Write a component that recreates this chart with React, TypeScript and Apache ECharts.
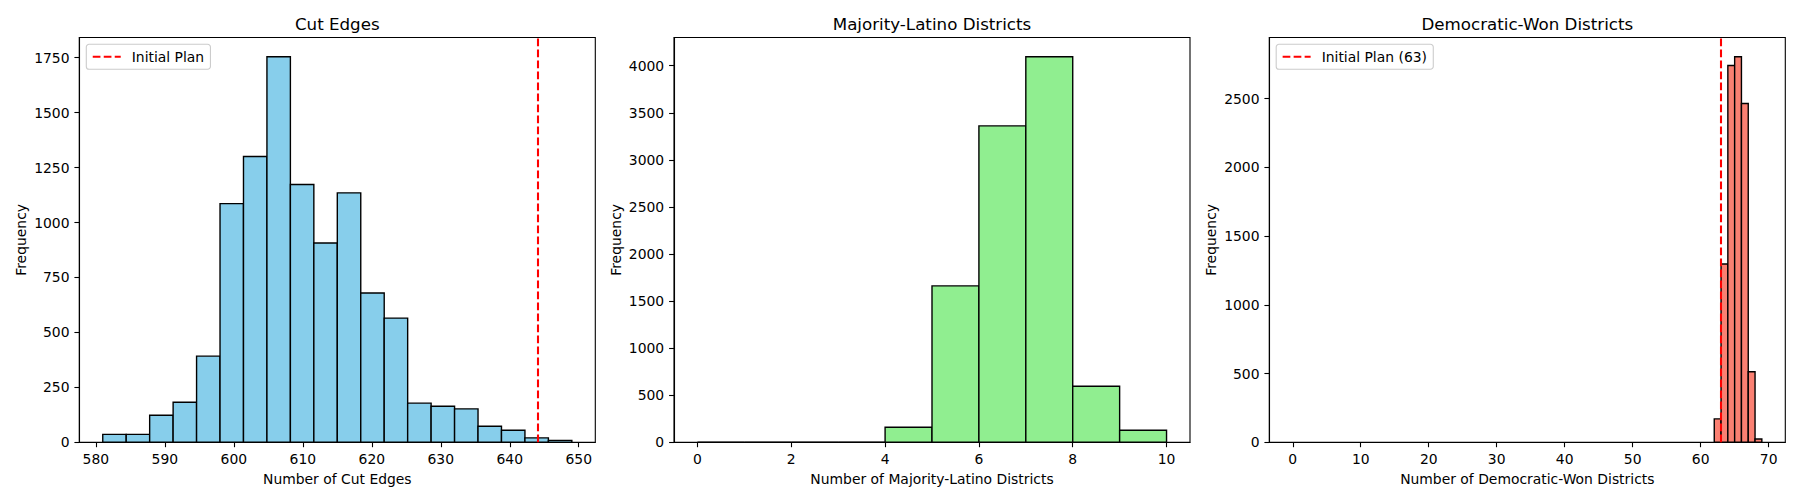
import React, { useEffect, useRef } from "react";
import * as echarts from "echarts";

const FONT = "DejaVu Sans";

// ---- Panel 1: Cut Edges ----
const cutEdgesBins = [581, 584.4, 587.8, 591.2, 594.6, 598, 601.4, 604.8, 608.2, 611.6, 615, 618.4, 621.8, 625.2, 628.6, 632, 635.4, 638.8, 642.2, 645.6, 649];
const cutEdgesCounts = [36, 36, 123, 182, 392, 1086, 1300, 1754, 1173, 907, 1135, 679, 565, 178, 164, 152, 73, 55, 20, 9];
const cutEdgesInitial = 644;
const cutEdgesXTicks = [580, 590, 600, 610, 620, 630, 640, 650];
const cutEdgesYTicks = [0, 250, 500, 750, 1000, 1250, 1500, 1750];

// ---- Panel 2: Majority-Latino Districts ----
const latinoBins = [0, 1, 2, 3, 4, 5, 6, 7, 8, 9, 10];
const latinoCounts = [0, 0, 0, 0, 160, 1661, 3361, 4095, 596, 128];
const latinoXTicks = [0, 2, 4, 6, 8, 10];
const latinoYTicks = [0, 500, 1000, 1500, 2000, 2500, 3000, 3500, 4000];

// ---- Panel 3: Democratic-Won Districts ----
const demRange = [0, 69]; // histogram range (bins below 62 are empty)
const demBins = [62, 63, 64, 65, 66, 67, 68, 69];
const demCounts = [170, 1297, 2741, 2804, 2464, 513, 24];
const demInitial = 63;
const demXTicks = [0, 10, 20, 30, 40, 50, 60, 70];
const demYTicks = [0, 500, 1000, 1500, 2000, 2500];

const titles = ["Cut Edges", "Majority-Latino Districts", "Democratic-Won Districts"];
const xNames = ["Number of Cut Edges", "Number of Majority-Latino Districts", "Number of Democratic-Won Districts"];
const legendNames = ["Initial Plan", "Initial Plan (63)"];

const GRID_LEFTS = [79.3, 674, 1269.3];
const GRID_TOP = 37.5;
const GRID_W = 516;
const GRID_H = 404.8;

const margin = (lo: number, hi: number) => {
  const p = (hi - lo) * 0.05;
  return [lo - p, hi + p];
};

const textBase = { fontFamily: FONT, fontSize: 13.9, color: "#000" };

function xAxis(i: number, range: number[], ticks: number[], name: string) {
  return {
    type: "value",
    gridIndex: i,
    min: range[0],
    max: range[1],
    name,
    nameLocation: "middle",
    nameGap: 29.5,
    nameTextStyle: { ...textBase },
    axisLine: { show: true, onZero: false, lineStyle: { color: "#000", width: 1.1 } },
    axisTick: { show: true, inside: false, length: 4.9, lineStyle: { color: "#000", width: 1.1 }, customValues: ticks },
    axisLabel: { show: true, customValues: ticks, margin: 10, ...textBase, formatter: (v: number) => String(v) },
    splitLine: { show: false },
  };
}

function yAxis(i: number, maxV: number, ticks: number[]) {
  return {
    type: "value",
    gridIndex: i,
    min: 0,
    max: maxV,
    name: "Frequency",
    nameLocation: "middle",
    nameGap: 51,
    nameRotate: 90,
    nameTextStyle: { ...textBase },
    axisLine: { show: true, onZero: false, lineStyle: { color: "#000", width: 1.1 } },
    axisTick: { show: true, inside: false, length: 4.9, lineStyle: { color: "#000", width: 1.1 }, customValues: ticks },
    axisLabel: { show: true, customValues: ticks, margin: 9.8, ...textBase, formatter: (v: number) => String(v) },
    splitLine: { show: false },
  };
}

function hist(i: number, bins: number[], counts: number[], color: string) {
  return {
    type: "custom",
    xAxisIndex: i,
    yAxisIndex: i,
    silent: true,
    data: counts.map((c, k) => [bins[k], bins[k + 1], c]),
    encode: { x: [0, 1], y: 2 },
    renderItem: (_params: any, api: any) => {
      const p0 = api.coord([api.value(0), 0]);
      const p1 = api.coord([api.value(1), api.value(2)]);
      return {
        type: "rect",
        shape: { x: p0[0], y: p1[1], width: p1[0] - p0[0], height: p0[1] - p1[1] },
        style: { fill: color, stroke: "#000", lineWidth: 1.39 },
      };
    },
  };
}

const DASH = [7.7, 3.3];

function vline(i: number, name: string, x: number) {
  return {
    type: "line",
    name,
    xAxisIndex: i,
    yAxisIndex: i,
    data: [],
    symbol: "none",
    lineStyle: { color: "#ff0000", width: 2.08, type: DASH },
    itemStyle: { color: "#ff0000" },
    z: 5,
    markLine: {
      silent: true,
      symbol: ["none", "none"],
      label: { show: false },
      lineStyle: { color: "#ff0000", width: 2.08, type: DASH },
      emphasis: { disabled: true },
      data: [{ xAxis: x }],
    },
  };
}

function legend(name: string, left: number) {
  return {
    data: [name],
    left,
    top: 44.3,
    orient: "vertical",
    padding: [5.5, 6.3, 5.5, 5.4],
    itemWidth: 28,
    itemHeight: 14,
    backgroundColor: "rgba(255,255,255,0.8)",
    borderColor: "#cccccc",
    borderWidth: 1.1,
    borderRadius: 2.8,
    selectedMode: false,
    itemStyle: { opacity: 0 },
    lineStyle: { color: "#ff0000", width: 2.08, type: DASH },
    textStyle: { ...textBase, padding: [0, 0, 0, 6] },
  };
}

export default function App() {
  const ref = useRef<HTMLDivElement>(null);
  useEffect(() => {
    if (!ref.current) return;
    const chart = echarts.init(ref.current, undefined, { renderer: "svg" });
    const ranges = [
      margin(cutEdgesBins[0], cutEdgesBins[cutEdgesBins.length - 1]),
      margin(latinoBins[0], latinoBins[latinoBins.length - 1]),
      margin(demRange[0], demRange[1]),
    ];
    const ymax = [
      Math.max(...cutEdgesCounts) * 1.05,
      Math.max(...latinoCounts) * 1.05,
      Math.max(...demCounts) * 1.05,
    ];
    chart.setOption({
      animation: false,
      backgroundColor: "#ffffff",
      title: titles.map((t, i) => ({
        text: t,
        left: GRID_LEFTS[i] + GRID_W / 2,
        top: 15.5,
        textAlign: "center",
        padding: 0,
        textStyle: { fontFamily: FONT, fontSize: 16.7, fontWeight: "normal", color: "#000" },
      })),
      grid: GRID_LEFTS.map((l) => ({
        left: l,
        top: GRID_TOP,
        width: GRID_W,
        height: GRID_H,
        show: true,
        borderColor: "#000",
        borderWidth: 1.1,
        backgroundColor: "transparent",
        containLabel: false,
      })),
      legend: [legend(legendNames[0], 86.3), legend(legendNames[1], 1276.2)],
      xAxis: [
        xAxis(0, ranges[0], cutEdgesXTicks, xNames[0]),
        xAxis(1, ranges[1], latinoXTicks, xNames[1]),
        xAxis(2, ranges[2], demXTicks, xNames[2]),
      ],
      yAxis: [
        yAxis(0, ymax[0], cutEdgesYTicks),
        yAxis(1, ymax[1], latinoYTicks),
        yAxis(2, ymax[2], demYTicks),
      ],
      series: [
        hist(0, cutEdgesBins, cutEdgesCounts, "#87CEEB"),
        hist(1, latinoBins, latinoCounts, "#90EE90"),
        hist(2, demBins, demCounts, "#FA8072"),
        vline(0, legendNames[0], cutEdgesInitial),
        vline(2, legendNames[1], demInitial),
      ],
    });
    return () => chart.dispose();
  }, []);
  return (
    <div
      ref={ref}
      style={{ position: "absolute", left: 0, top: 0, width: 1800, height: 500, background: "#fff" }}
    />
  );
}
